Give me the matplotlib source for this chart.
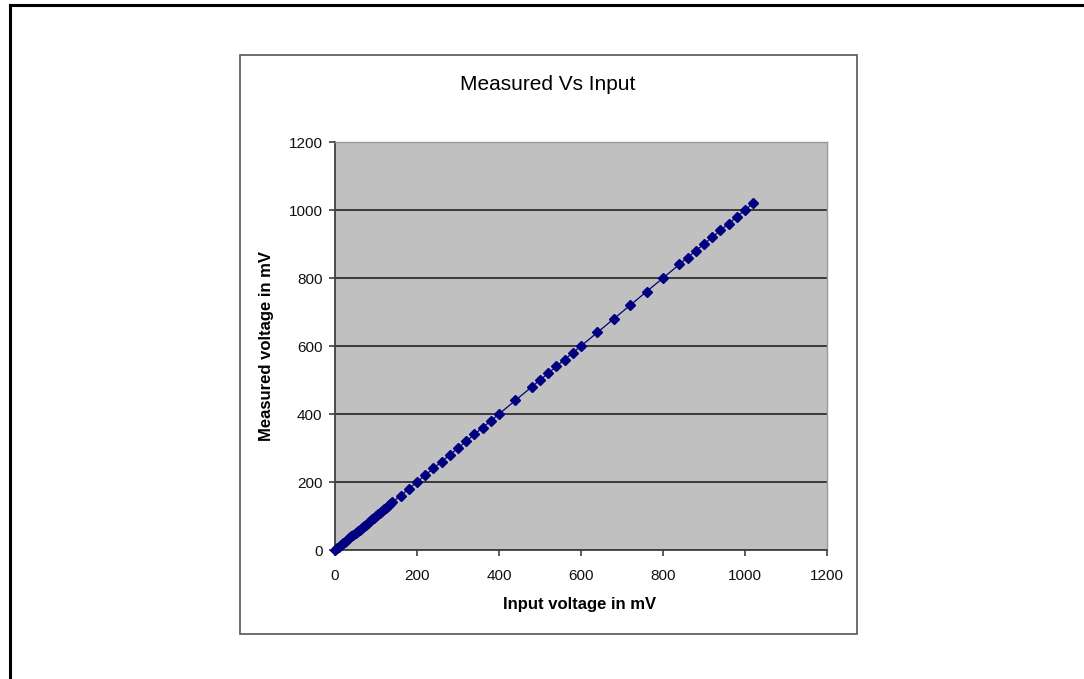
import matplotlib
matplotlib.use("Agg")
import matplotlib.pyplot as plt
from matplotlib.patches import Rectangle
from matplotlib.lines import Line2D

plt.rcParams['font.family'] = ['Liberation Sans', 'DejaVu Sans']

# Data (input mV vs measured mV)
input_mv = [0, 5, 10, 15, 20, 25, 30, 35, 40, 45, 50, 55, 60, 65, 70, 75, 80, 85, 90,
            95, 100, 105, 110, 115, 120, 125, 130, 135, 140,
            160, 180, 200, 220, 240, 260, 280, 300, 320, 340, 360, 380, 400,
            440, 480, 500, 520, 540, 560, 580, 600, 640, 680, 720, 760, 800,
            840, 860, 880, 900, 920, 940, 960, 980, 1000, 1020]
measured_mv = [0, 5, 10, 15, 20, 25, 30, 35, 40, 45, 50, 55, 60, 65, 70, 75, 80, 85, 90,
               95, 100, 105, 110, 115, 120, 125, 130, 135, 140,
               160, 180, 200, 220, 240, 260, 280, 300, 320, 340, 360, 380, 400,
               440, 480, 500, 520, 540, 560, 580, 600, 640, 680, 720, 760, 800,
               840, 860, 880, 900, 920, 940, 960, 980, 1000, 1020]
ticks = [0, 200, 400, 600, 800, 1000, 1200]

title = "Measured Vs Input"
xlabel = "Input voltage in mV"
ylabel = "Measured voltage in mV"

W, H = 1084, 679
fig = plt.figure(figsize=(W / 100, H / 100), dpi=100)
fig.patch.set_facecolor('white')

def fx(px):
    return px / W

def fy(py):
    return 1 - py / H

# outer frame (left and top edges visible)
fig.add_artist(Line2D([fx(10), fx(10)], [fy(5), fy(H + 5)], color='black', lw=2.2,
                      transform=fig.transFigure))
fig.add_artist(Line2D([fx(10), fx(W + 5)], [fy(5), fy(5)], color='black', lw=2.2,
                      transform=fig.transFigure))

# chart area box
fig.add_artist(Rectangle((fx(240), fy(634)), fx(857) - fx(240), fy(55) - fy(634),
                         transform=fig.transFigure, fill=False, edgecolor='#555555', lw=1.2))

# plot area
L, T, R, B = 335, 142, 827, 550
ax = fig.add_axes([fx(L), fy(B), fx(R) - fx(L), fy(T) - fy(B)])
ax.set_facecolor('#C0C0C0')
ax.set_xlim(0, 1200)
ax.set_ylim(0, 1200)
ax.set_xticks(ticks)
ax.set_yticks(ticks)
ax.yaxis.grid(True, color='#3a3a3a', lw=1.4)
ax.set_axisbelow(True)

for s in ['left', 'bottom']:
    ax.spines[s].set_color('#404040')
    ax.spines[s].set_linewidth(1.3)
for s in ['top', 'right']:
    ax.spines[s].set_color('#9a9a9a')
    ax.spines[s].set_linewidth(1.0)

ax.tick_params(axis='both', direction='out', length=4, width=1.2, color='#404040',
               labelsize=11, labelcolor='#111111')
ax.tick_params(axis='x', pad=9.5)
ax.tick_params(axis='y', pad=5)

ax.plot(input_mv, measured_mv, color='#000080', lw=0.9, marker='D', markersize=4.8,
        markerfacecolor='#000080', markeredgecolor='#000080', clip_on=False, zorder=3)

ax.set_xlabel(xlabel, fontsize=12, fontweight='bold', va='center')
ax.xaxis.set_label_coords((580 - L) / (R - L), (B - 605) / (B - T))
ax.set_ylabel(ylabel, fontsize=12, fontweight='bold', va='center')
ax.yaxis.set_label_coords((267 - L) / (R - L), 0.5)

ax.set_title(title, fontsize=15, x=(548 - L) / (R - L), y=(B - 84) / (B - T),
             va='center', pad=0)

fig.savefig('out.png', dpi=100)
